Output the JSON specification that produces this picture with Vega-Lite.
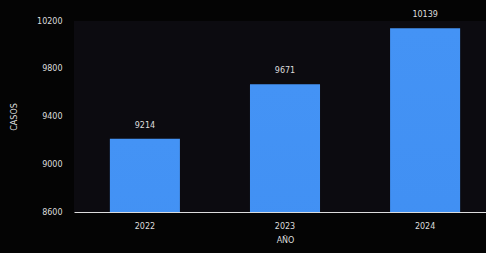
{
  "$schema": "https://vega.github.io/schema/vega-lite/v6.json",
  "autosize": "none",
  "width": 422,
  "height": 191,
  "padding": {"left": 74, "top": 21, "right": 0, "bottom": 41},
  "background": "#040404",
  "config": {
    "view": {"fill": "#0c0b10", "stroke": null},
    "font": "DejaVu Sans"
  },
  "data": {
    "values": [
      {"anio": "2022", "casos": 9214},
      {"anio": "2023", "casos": 9671},
      {"anio": "2024", "casos": 10139}
    ]
  },
  "encoding": {
    "x": {
      "field": "anio", "type": "nominal", "title": "AÑO",
      "scale": {"paddingInner": 0.5, "paddingOuter": 0.256},
      "axis": {"labelAngle": 0, "labelColor": "#dddddd", "labelFontSize": 8, "titleColor": "#dddddd", "titleFontSize": 8, "titleFontWeight": "normal", "domainColor": "#dddddd", "domainWidth": 1, "ticks": false, "labelPadding": 10, "titlePadding": 6}
    },
    "y": {
      "field": "casos", "type": "quantitative", "title": "CASOS",
      "scale": {"domain": [8600, 10200], "zero": false, "nice": false},
      "axis": {"values": [8600, 9000, 9400, 9800, 10200], "format": "d", "grid": false, "domain": false, "ticks": false, "labelColor": "#dddddd", "labelFontSize": 8, "labelPadding": 12, "titleColor": "#dddddd", "titleFontSize": 8, "titleFontWeight": "normal", "titlePadding": 18}
    }
  },
  "layer": [
    {"mark": {"type": "bar", "clip": true, "color": {"gradient": "linear", "x1": 0, "y1": 0, "x2": 0, "y2": 1, "stops": [{"offset": 0, "color": "#4493f5"}, {"offset": 1, "color": "#2f7ee8"}]}}},
    {"mark": {"type": "text", "dy": -13, "color": "#dddddd", "fontSize": 8}, "encoding": {"text": {"field": "casos", "type": "quantitative", "format": "d"}}}
  ]
}
